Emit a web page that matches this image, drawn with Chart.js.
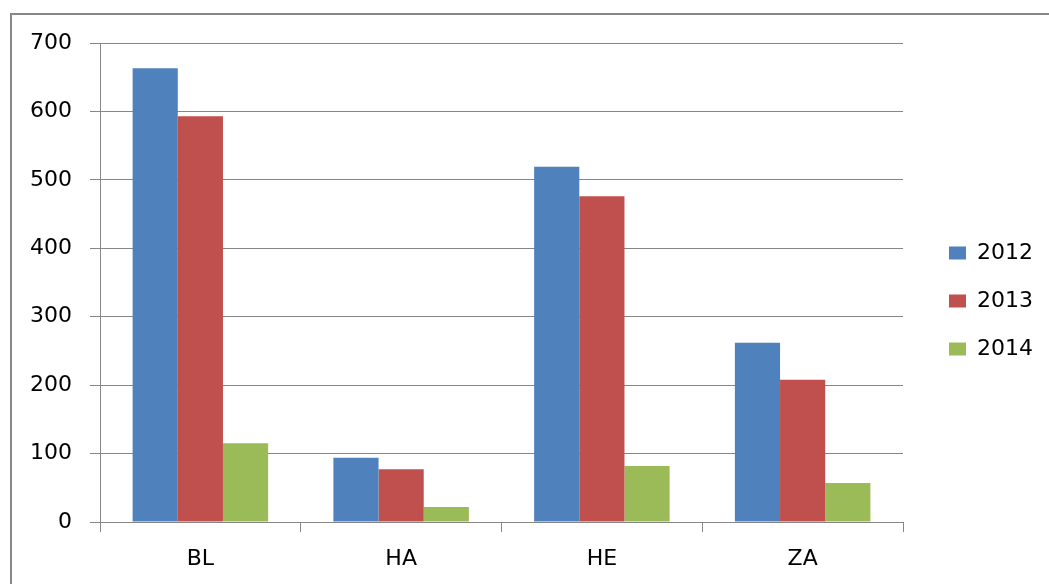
<!DOCTYPE html>
<html>
<head>
<meta charset="utf-8">
<script src="https://cdn.jsdelivr.net/npm/chart.js@4/dist/chart.umd.min.js"></script>
<style>
  html, body { margin: 0; padding: 0; background: #fff; }
  #grafico { display: block; }
</style>
</head>
<body>
<canvas id="grafico" width="1049" height="584"></canvas>
<script>
var categorias = ['BL', 'HA', 'HE', 'ZA'];
var anos = ['2012', '2013', '2014'];
var valores2012 = [663, 94, 519, 262];
var valores2013 = [593, 77, 476, 208];
var valores2014 = [115, 22, 82, 57];
var ticksY = [0, 100, 200, 300, 400, 500, 600, 700];

var cores = ['#4F81BD', '#C0504D', '#9BBB59'];
var corGrade = '#868686';
var fonte = { family: 'DejaVu Sans', size: 22 };

// moldura cinza do grafico (cortada a direita e embaixo)
var moldura = {
    id: 'moldura',
    beforeDraw: function(chart) {
        var ctx = chart.ctx;
        ctx.save();
        ctx.strokeStyle = '#888888';
        ctx.lineWidth = 2;
        ctx.beginPath();
        ctx.moveTo(11, chart.height);
        ctx.lineTo(11, 14);
        ctx.lineTo(chart.width, 14);
        ctx.stroke();
        ctx.restore();
    }
};

var ctx = document.getElementById('grafico').getContext('2d');

var dados = {
    labels: categorias,
    datasets: [{
        label: anos[0],
        data: valores2012,
        backgroundColor: cores[0]
    }, {
        label: anos[1],
        data: valores2013,
        backgroundColor: cores[1]
    }, {
        label: anos[2],
        data: valores2014,
        backgroundColor: cores[2]
    }]
};

var opcoes = {
    responsive: false,
    animation: false,
    maintainAspectRatio: false,
    layout: {
        padding: { left: 10, top: 43, right: 6, bottom: 0 }
    },
    datasets: {
        bar: {
            barPercentage: 1,
            categoryPercentage: 0.675
        }
    },
    scales: {
        x: {
            grid: {
                drawOnChartArea: false,
                drawTicks: true,
                tickLength: 10,
                color: corGrade
            },
            border: { color: corGrade, width: 1 },
            ticks: {
                color: '#000',
                font: fonte,
                padding: 14
            },
            afterFit: function(scale) {
                scale.height = 62;
            }
        },
        y: {
            min: 0,
            max: 700,
            afterBuildTicks: function(scale) {
                scale.ticks = ticksY.map(function(v) { return { value: v }; });
            },
            grid: {
                color: corGrade,
                tickLength: 10
            },
            border: { color: corGrade, width: 1 },
            ticks: {
                color: '#000',
                font: fonte,
                padding: 18
            },
            afterFit: function(scale) {
                scale.width = 90;
            }
        },
        // eixo vazio so para dar espaco entre o grafico e a legenda
        folga: {
            type: 'linear',
            position: 'right',
            display: true,
            grid: { display: false },
            border: { display: false },
            ticks: { display: false },
            afterFit: function(scale) {
                scale.width = 20;
            }
        }
    },
    plugins: {
        legend: {
            position: 'right',
            align: 'start',
            title: { display: true, text: '', padding: { top: 161, bottom: 0 }, font: { size: 10 } },
            labels: {
                color: '#000',
                font: fonte,
                boxWidth: 17,
                boxHeight: 13,
                padding: 26
            }
        },
        tooltip: { enabled: false }
    }
};

var graficoBarras = new Chart(ctx, {
    type: 'bar',
    data: dados,
    options: opcoes,
    plugins: [moldura]
});
</script>
</body>
</html>
